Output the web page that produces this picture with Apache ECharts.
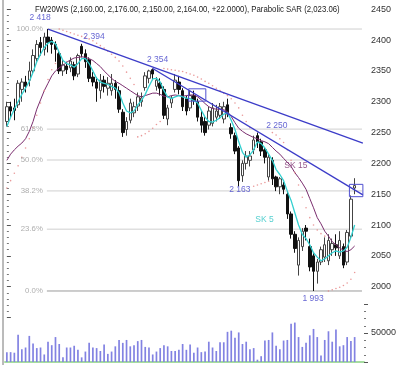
<!DOCTYPE html>
<html><head><meta charset="utf-8">
<script src="https://cdn.jsdelivr.net/npm/echarts@6/dist/echarts.min.js"></script>
<style>html,body{margin:0;padding:0;background:#fff}#c{width:400px;height:365px}</style>
</head><body><div id="c"></div>
<script>
// ---------- data ----------
const categories = Array.from({length: 96}, (_, i) => String(i + 1));
const opens  = [2268,2292,2290,2295,2320,2332,2335,2350,2370,2396,2385,2405,2400,2393,2378,2350,2358,2355,2360,2345,2390,2378,2368,2340,2332,2318,2335,2322,2318,2330,2318,2283,2255,2270,2282,2293,2300,2323,2338,2352,2325,2330,2320,2272,2298,2320,2332,2318,2305,2290,2310,2300,2275,2268,2262,2265,2275,2278,2272,2295,2258,2245,2225,2180,2200,2205,2222,2245,2235,2222,2178,2205,2178,2162,2165,2150,2118,2085,2035,2065,2095,2065,2050,2025,2040,2048,2042,2060,2068,2050,2065,2040,2082,2160];
const closes = [2292,2285,2286,2330,2332,2325,2350,2375,2393,2388,2405,2396,2393,2385,2350,2360,2352,2366,2342,2375,2378,2365,2338,2332,2322,2335,2325,2330,2330,2320,2288,2250,2268,2298,2292,2308,2306,2342,2350,2345,2335,2322,2278,2290,2306,2335,2320,2292,2285,2310,2302,2275,2262,2250,2285,2290,2285,2292,2292,2280,2248,2220,2172,2200,2212,2212,2238,2235,2220,2210,2210,2175,2162,2175,2158,2118,2085,2062,2075,2090,2090,2032,2025,2040,2060,2068,2075,2070,2063,2075,2035,2088,2142,2164];
const lows   = [2260,2275,2270,2290,2300,2315,2325,2345,2365,2375,2375,2380,2378,2365,2345,2342,2345,2348,2335,2340,2372,2355,2332,2325,2300,2305,2315,2310,2310,2305,2282,2243,2245,2265,2275,2285,2292,2318,2330,2335,2318,2310,2272,2262,2290,2315,2312,2285,2278,2285,2295,2268,2250,2245,2255,2260,2268,2272,2265,2275,2240,2215,2163,2170,2190,2195,2215,2225,2212,2200,2172,2165,2155,2150,2150,2110,2078,2055,2018,2058,2075,2025,1993,2005,2035,2040,2035,2050,2050,2045,2030,2035,2078,2150];
const highs  = [2300,2300,2305,2335,2338,2342,2365,2385,2400,2405,2412,2418,2405,2398,2382,2368,2365,2372,2365,2378,2394,2385,2372,2348,2340,2345,2342,2340,2345,2335,2325,2288,2275,2305,2300,2315,2315,2348,2352,2354,2340,2338,2325,2295,2310,2345,2342,2322,2310,2318,2318,2305,2285,2275,2292,2298,2295,2298,2300,2305,2265,2250,2228,2205,2220,2220,2245,2250,2240,2225,2215,2210,2180,2178,2170,2155,2122,2090,2080,2095,2100,2078,2055,2045,2065,2080,2085,2078,2085,2090,2070,2092,2148,2176];
const volumes = [17000,17000,16000,47000,22000,25000,45000,32000,24000,25000,13000,35000,29000,43000,31000,8000,25000,25000,28000,21000,8000,18000,33000,25000,24000,19000,30000,14000,18000,27000,38000,33000,38000,27000,29000,36000,38000,26000,25000,13000,18000,24000,29000,27000,19000,19000,
  21000,31000,21000,30000,16000,25000,17000,18000,35000,25000,19000,34000,34000,52000,54000,42000,51000,31000,35000,22000,24000,4000,10000,37000,38000,51000,28000,22000,37000,38000,66000,68000,43000,26000,33000,46000,57000,43000,11000,38000,53000,35000,56000,27000,29000,43000,36000,43000];
const sk5  = [2260,2275,2288,2300,2312,2322,2333,2348,2365,2377,2388,2395,2398,2394,2380,2367,2362,2360,2356,2362,2370,2370,2362,2350,2338,2332,2330,2328,2325,2322,2315,2298,2285,2282,2285,2295,2302,2312,2325,2337,2338,2332,2318,2308,2305,2308,2310,2308,2306,2305,2302,2298,2286,2275,2268,2267,2270,2274,2280,2282,2270,2255,2235,2218,2210,2214,2222,2235,2232,2225,2215,2205,2190,2182,2172,2155,2140,2120,2100,2085,2078,2068,2055,2048,2042,2045,2050,2055,2058,2056,2058,2064,2080,2100];
const sk15 = [2205,2215,2222,2228,2233,2240,2252,2268,2288,2303,2318,2330,2342,2350,2355,2359,2364,2368,2371,2372,2373,2372,2370,2367,2362,2357,2350,2344,2338,2333,2330,2326,2322,2318,2314,2310,2308,2310,2312,2314,2314,2312,2309,2308,2310,2311,2310,2309,2310,2311,2311,2308,2303,2297,2292,2289,2288,2288,2287,2284,2276,2266,2257,2252,2248,2245,2242,2240,2237,2235,2232,2226,2220,2215,2208,2202,2195,2185,2177,2168,2158,2143,2128,2112,2102,2090,2082,2073,2068,2063,2059,2057,2060,2066];
const sar  = [2160,2172,2184,2196,2210,2225,2240,2258,2278,2298,2318,2336,2352,2362,
  2418,2416,2414,2412,2410,2408,2406,2404,2402,2399,2395,2391,2387,2382,2377,2372,2366,2358,2348,2338,2328,
  2243,2245,2248,2252,2257,2263,2268,
  2354,2353,2352,2351,2350,2349,2347,2345,2343,2340,2337,2333,2330,2326,2322,2318,2314,2310,2305,2298,2290,2278,2268,2258,
  2163,2165,2167,2169,2171,
  2250,2246,2240,2234,2222,2205,2185,2165,2145,2128,2112,2100,2092,2086,2082,
  1993,1995,1997,1999,2002,2006,2012,2023.06];
const priceTicks = {min: 1950, max: 2450, interval: 50};
const volumeTicks = {min: 0, max: 100000, interval: 50000};
const fibLevels = [2418, 2255.65, 2205.5, 2155.35, 2093.3, 1993];
const fibLabels = ['100.0%', '61.8%', '50.0%', '38.2%', '23.6%', '0.0%'];
const fibSpan = [10.7, 94.96];
const trend1 = [[11, 2418], [95.2, 2233]];
const trend2 = [[39, 2354], [95.2, 2149]];
const box1 = [[48.6, 2321], [53.2, 2321], [53.2, 2301], [48.6, 2301], [48.6, 2321]];
const box2 = [[91.6, 2166], [95.2, 2166], [95.2, 2146], [91.6, 2146], [91.6, 2166]];
const noteText = ['2 418', '2 394', '2 354', '2 250', '2 163', '1 993', 'SK 15', 'SK 5'];
const noteX    = [8.9, 23.3, 40.3, 72.2, 62.3, 81.9, 77.3, 68.9];
const noteY    = [2436, 2405, 2368, 2262, 2158, 1980, 2197, 2108];
const titleText = 'FW20WS (2,160.00, 2,176.00, 2,150.00, 2,164.00, +22.0000), Parabolic SAR (2,023.06)';

const FONT = 'Arial, "Liberation Sans", sans-serif';

const chart = echarts.init(document.getElementById('c'), null, {renderer: 'canvas'});
const GL = 5, GW = 359;
const noteColors = ['#4040c8','#4040c8','#4040c8','#4040c8','#4040c8','#4040c8','#7a2d6e','#2cc4c4'];

const series = [
  {type: 'candlestick', xAxisIndex: 0, yAxisIndex: 0, barWidth: 3,
   data: opens.map((o, i) => [o, closes[i], lows[i], highs[i]]),
   itemStyle: {color: '#ffffff', color0: '#111111', borderColor: '#444444', borderColor0: '#111111', borderWidth: 1},
   z: 3},
  {type: 'line', xAxisIndex: 0, yAxisIndex: 0, data: sk15, symbol: 'none', lineStyle: {color: '#7a2d6e', width: 1}, z: 4},
  {type: 'line', xAxisIndex: 0, yAxisIndex: 0, data: sk5, symbol: 'none', lineStyle: {color: '#33d0d0', width: 1.3}, z: 5},
  {type: 'scatter', xAxisIndex: 0, yAxisIndex: 0, data: sar, symbol: 'circle', symbolSize: 1.6, itemStyle: {color: '#e58080'}, z: 4},
  {type: 'line', xAxisIndex: 1, yAxisIndex: 0, data: trend1, symbol: 'none', lineStyle: {color: '#3c3cc8', width: 1.3}, z: 6},
  {type: 'line', xAxisIndex: 1, yAxisIndex: 0, data: trend2, symbol: 'none', lineStyle: {color: '#3c3cc8', width: 1.3}, z: 6},
  {type: 'line', xAxisIndex: 1, yAxisIndex: 0, data: box1, symbol: 'none', lineStyle: {color: '#5050d0', width: 1}, z: 6},
  {type: 'line', xAxisIndex: 1, yAxisIndex: 0, data: box2, symbol: 'none', lineStyle: {color: '#5050d0', width: 1}, z: 6},
  {type: 'scatter', xAxisIndex: 1, yAxisIndex: 0, symbolSize: 0, z: 7,
   data: noteText.map((t, i) => ({value: [noteX[i], noteY[i]], label: {color: noteColors[i]}})),
   label: {show: true, position: 'inside', fontFamily: FONT, fontSize: 8.5,
           formatter: p => noteText[p.dataIndex]}},
  {type: 'scatter', xAxisIndex: 1, yAxisIndex: 0, symbolSize: 0, z: 7,
   data: fibLevels.map(v => [fibSpan[0], v]),
   label: {show: true, position: 'left', distance: 4, color: '#999999', fontFamily: FONT, fontSize: 7.8,
           formatter: p => fibLabels[p.dataIndex]}},
  {type: 'bar', xAxisIndex: 2, yAxisIndex: 1, data: volumes, barWidth: 1.7, itemStyle: {color: '#8282e2'}}
];
fibLevels.forEach((v, k) => {
  series.push({type: 'line', xAxisIndex: 1, yAxisIndex: 0, symbol: 'none', z: 1,
    data: [[fibSpan[0], v], [fibSpan[1], v]],
    lineStyle: {color: k === fibLevels.length - 1 ? '#9a9a9a' : '#cfcfcf', width: 1}});
});

chart.setOption({
  animation: false,
  backgroundColor: '#ffffff',
  grid: [
    {left: GL, width: GW, top: 9.3, height: 308.2, outerBoundsMode: 'none'},
    {left: GL, width: GW, top: 304, height: 58, outerBoundsMode: 'none'}
  ],
  xAxis: [
    {type: 'category', gridIndex: 0, data: categories, boundaryGap: true, show: false},
    {type: 'value', gridIndex: 0, min: -0.5, max: categories.length - 0.5, show: false},
    {type: 'category', gridIndex: 1, data: categories, boundaryGap: true,
     axisLine: {show: true, lineStyle: {color: '#a6dca0', width: 2}}, axisTick: {show: false}, axisLabel: {show: false}}
  ],
  yAxis: [
    {type: 'value', gridIndex: 0, position: 'right', min: priceTicks.min, max: priceTicks.max, interval: priceTicks.interval,
     axisLine: {show: false}, splitLine: {show: false},
     axisTick: {show: true, length: 4, lineStyle: {color: '#555'}},
     minorTick: {show: true, splitNumber: 5, length: 2, lineStyle: {color: '#777'}},
     axisLabel: {showMinLabel: false, margin: 7, color: '#333', fontFamily: FONT, fontSize: 9, formatter: v => String(v)}},
    {type: 'value', gridIndex: 1, position: 'right', min: volumeTicks.min, max: volumeTicks.max, interval: volumeTicks.interval,
     axisLine: {show: false}, splitLine: {show: false},
     axisTick: {show: true, length: 4, lineStyle: {color: '#555'}},
     minorTick: {show: true, splitNumber: 4, length: 2, lineStyle: {color: '#777'}},
     axisLabel: {showMinLabel: false, showMaxLabel: false, margin: 7, color: '#333', fontFamily: FONT, fontSize: 9, formatter: v => String(v)}}
  ],
  graphic: [
    {type: 'line', shape: {x1: 3, y1: 0, x2: 3, y2: 365}, style: {stroke: '#777', lineWidth: 1}},
    {type: 'text', x: 35, y: 4, scaleX: 0.82, scaleY: 1,
     style: {text: titleText, font: '9.5px Arial, "Liberation Sans", sans-serif', fill: '#222', textVerticalAlign: 'top'}}
  ],
  series: series
});
</script></body></html>
